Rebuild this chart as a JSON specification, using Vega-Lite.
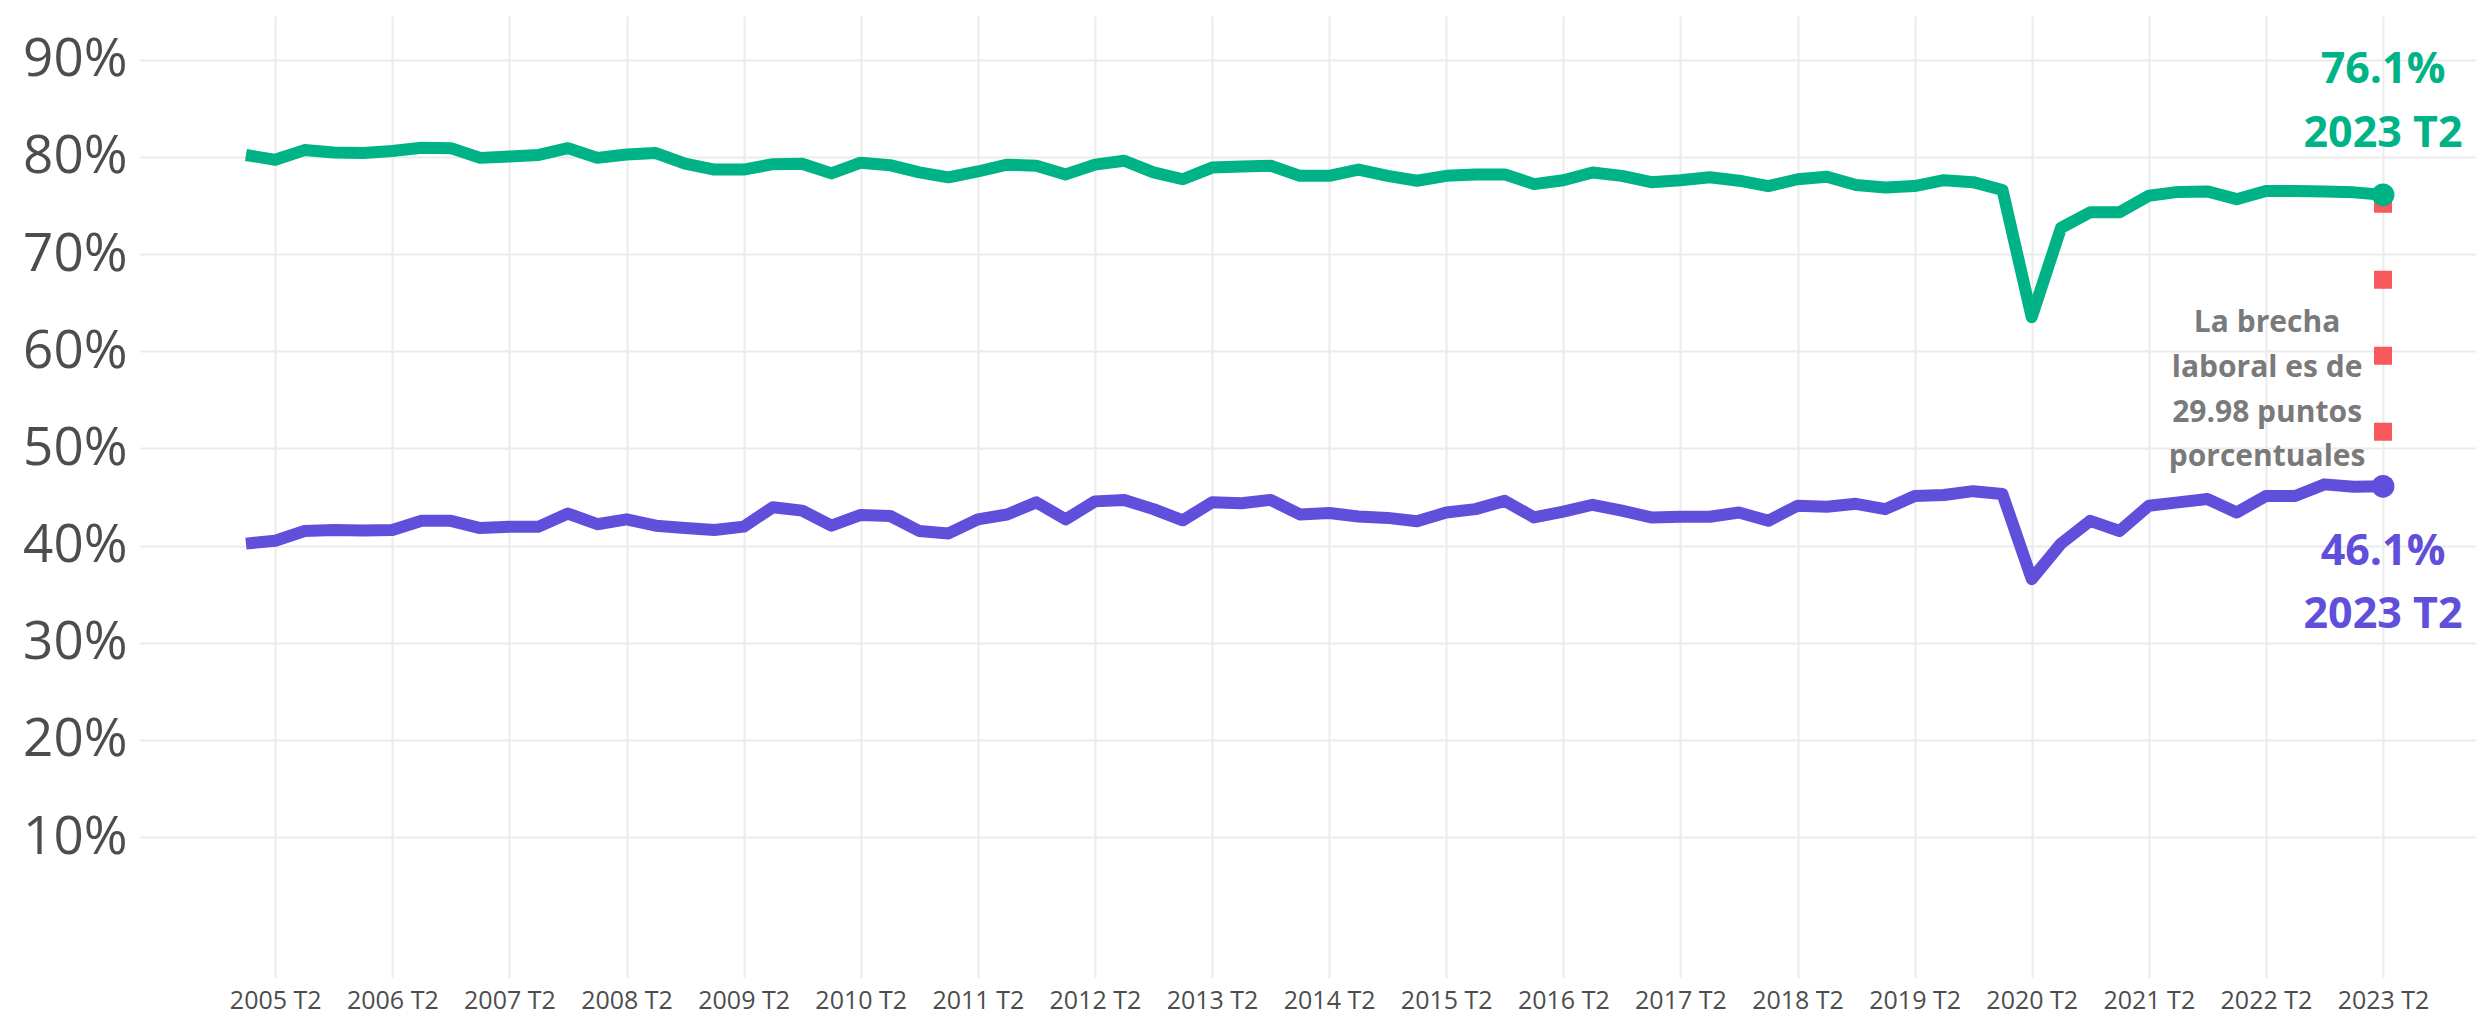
{
  "$schema": "https://vega.github.io/schema/vega-lite/v6.json",
  "width": 2336,
  "height": 962,
  "autosize": {"type": "none"},
  "padding": {"left": 140, "top": 16, "right": 0, "bottom": 36},
  "background": "white",
  "config": {"view": {"stroke": null}, "font": "Open Sans"},
  "datasets": {
    "serie": [
      {"t": 2005, "sexo": "Hombres", "v": 80.2}, {"t": 2005.25, "sexo": "Hombres", "v": 79.7}, {"t": 2005.5, "sexo": "Hombres", "v": 80.7}, {"t": 2005.75, "sexo": "Hombres", "v": 80.45},
      {"t": 2006, "sexo": "Hombres", "v": 80.4}, {"t": 2006.25, "sexo": "Hombres", "v": 80.6}, {"t": 2006.5, "sexo": "Hombres", "v": 80.95}, {"t": 2006.75, "sexo": "Hombres", "v": 80.9},
      {"t": 2007, "sexo": "Hombres", "v": 79.9}, {"t": 2007.25, "sexo": "Hombres", "v": 80.05}, {"t": 2007.5, "sexo": "Hombres", "v": 80.2}, {"t": 2007.75, "sexo": "Hombres", "v": 80.9},
      {"t": 2008, "sexo": "Hombres", "v": 79.9}, {"t": 2008.25, "sexo": "Hombres", "v": 80.25}, {"t": 2008.5, "sexo": "Hombres", "v": 80.4}, {"t": 2008.75, "sexo": "Hombres", "v": 79.3},
      {"t": 2009, "sexo": "Hombres", "v": 78.7}, {"t": 2009.25, "sexo": "Hombres", "v": 78.7}, {"t": 2009.5, "sexo": "Hombres", "v": 79.25}, {"t": 2009.75, "sexo": "Hombres", "v": 79.3},
      {"t": 2010, "sexo": "Hombres", "v": 78.3}, {"t": 2010.25, "sexo": "Hombres", "v": 79.4}, {"t": 2010.5, "sexo": "Hombres", "v": 79.15}, {"t": 2010.75, "sexo": "Hombres", "v": 78.4},
      {"t": 2011, "sexo": "Hombres", "v": 77.9}, {"t": 2011.25, "sexo": "Hombres", "v": 78.5}, {"t": 2011.5, "sexo": "Hombres", "v": 79.2}, {"t": 2011.75, "sexo": "Hombres", "v": 79.1},
      {"t": 2012, "sexo": "Hombres", "v": 78.2}, {"t": 2012.25, "sexo": "Hombres", "v": 79.2}, {"t": 2012.5, "sexo": "Hombres", "v": 79.6}, {"t": 2012.75, "sexo": "Hombres", "v": 78.4},
      {"t": 2013, "sexo": "Hombres", "v": 77.7}, {"t": 2013.25, "sexo": "Hombres", "v": 78.9}, {"t": 2013.5, "sexo": "Hombres", "v": 79.0}, {"t": 2013.75, "sexo": "Hombres", "v": 79.1},
      {"t": 2014, "sexo": "Hombres", "v": 78.05}, {"t": 2014.25, "sexo": "Hombres", "v": 78.05}, {"t": 2014.5, "sexo": "Hombres", "v": 78.7}, {"t": 2014.75, "sexo": "Hombres", "v": 78.05},
      {"t": 2015, "sexo": "Hombres", "v": 77.55}, {"t": 2015.25, "sexo": "Hombres", "v": 78.05}, {"t": 2015.5, "sexo": "Hombres", "v": 78.2}, {"t": 2015.75, "sexo": "Hombres", "v": 78.2},
      {"t": 2016, "sexo": "Hombres", "v": 77.2}, {"t": 2016.25, "sexo": "Hombres", "v": 77.6}, {"t": 2016.5, "sexo": "Hombres", "v": 78.4}, {"t": 2016.75, "sexo": "Hombres", "v": 78.05},
      {"t": 2017, "sexo": "Hombres", "v": 77.4}, {"t": 2017.25, "sexo": "Hombres", "v": 77.6}, {"t": 2017.5, "sexo": "Hombres", "v": 77.9}, {"t": 2017.75, "sexo": "Hombres", "v": 77.55},
      {"t": 2018, "sexo": "Hombres", "v": 77.0}, {"t": 2018.25, "sexo": "Hombres", "v": 77.7}, {"t": 2018.5, "sexo": "Hombres", "v": 77.95}, {"t": 2018.75, "sexo": "Hombres", "v": 77.1},
      {"t": 2019, "sexo": "Hombres", "v": 76.85}, {"t": 2019.25, "sexo": "Hombres", "v": 77.0}, {"t": 2019.5, "sexo": "Hombres", "v": 77.6}, {"t": 2019.75, "sexo": "Hombres", "v": 77.4},
      {"t": 2020, "sexo": "Hombres", "v": 76.6}, {"t": 2020.25, "sexo": "Hombres", "v": 63.5}, {"t": 2020.5, "sexo": "Hombres", "v": 72.7}, {"t": 2020.75, "sexo": "Hombres", "v": 74.3},
      {"t": 2021, "sexo": "Hombres", "v": 74.3}, {"t": 2021.25, "sexo": "Hombres", "v": 76.0}, {"t": 2021.5, "sexo": "Hombres", "v": 76.4}, {"t": 2021.75, "sexo": "Hombres", "v": 76.45},
      {"t": 2022, "sexo": "Hombres", "v": 75.65}, {"t": 2022.25, "sexo": "Hombres", "v": 76.5}, {"t": 2022.5, "sexo": "Hombres", "v": 76.5}, {"t": 2022.75, "sexo": "Hombres", "v": 76.45},
      {"t": 2023, "sexo": "Hombres", "v": 76.35}, {"t": 2023.25, "sexo": "Hombres", "v": 76.1},
      {"t": 2005, "sexo": "Mujeres", "v": 40.2}, {"t": 2005.25, "sexo": "Mujeres", "v": 40.5}, {"t": 2005.5, "sexo": "Mujeres", "v": 41.5}, {"t": 2005.75, "sexo": "Mujeres", "v": 41.6},
      {"t": 2006, "sexo": "Mujeres", "v": 41.55}, {"t": 2006.25, "sexo": "Mujeres", "v": 41.6}, {"t": 2006.5, "sexo": "Mujeres", "v": 42.55}, {"t": 2006.75, "sexo": "Mujeres", "v": 42.55},
      {"t": 2007, "sexo": "Mujeres", "v": 41.8}, {"t": 2007.25, "sexo": "Mujeres", "v": 41.95}, {"t": 2007.5, "sexo": "Mujeres", "v": 41.95}, {"t": 2007.75, "sexo": "Mujeres", "v": 43.3},
      {"t": 2008, "sexo": "Mujeres", "v": 42.2}, {"t": 2008.25, "sexo": "Mujeres", "v": 42.7}, {"t": 2008.5, "sexo": "Mujeres", "v": 42.05}, {"t": 2008.75, "sexo": "Mujeres", "v": 41.8},
      {"t": 2009, "sexo": "Mujeres", "v": 41.6}, {"t": 2009.25, "sexo": "Mujeres", "v": 41.95}, {"t": 2009.5, "sexo": "Mujeres", "v": 43.95}, {"t": 2009.75, "sexo": "Mujeres", "v": 43.6},
      {"t": 2010, "sexo": "Mujeres", "v": 42.05}, {"t": 2010.25, "sexo": "Mujeres", "v": 43.15}, {"t": 2010.5, "sexo": "Mujeres", "v": 43.05}, {"t": 2010.75, "sexo": "Mujeres", "v": 41.5},
      {"t": 2011, "sexo": "Mujeres", "v": 41.25}, {"t": 2011.25, "sexo": "Mujeres", "v": 42.7}, {"t": 2011.5, "sexo": "Mujeres", "v": 43.2}, {"t": 2011.75, "sexo": "Mujeres", "v": 44.45},
      {"t": 2012, "sexo": "Mujeres", "v": 42.7}, {"t": 2012.25, "sexo": "Mujeres", "v": 44.55}, {"t": 2012.5, "sexo": "Mujeres", "v": 44.7}, {"t": 2012.75, "sexo": "Mujeres", "v": 43.75},
      {"t": 2013, "sexo": "Mujeres", "v": 42.6}, {"t": 2013.25, "sexo": "Mujeres", "v": 44.45}, {"t": 2013.5, "sexo": "Mujeres", "v": 44.35}, {"t": 2013.75, "sexo": "Mujeres", "v": 44.7},
      {"t": 2014, "sexo": "Mujeres", "v": 43.2}, {"t": 2014.25, "sexo": "Mujeres", "v": 43.35}, {"t": 2014.5, "sexo": "Mujeres", "v": 43.0}, {"t": 2014.75, "sexo": "Mujeres", "v": 42.85},
      {"t": 2015, "sexo": "Mujeres", "v": 42.5}, {"t": 2015.25, "sexo": "Mujeres", "v": 43.4}, {"t": 2015.5, "sexo": "Mujeres", "v": 43.75}, {"t": 2015.75, "sexo": "Mujeres", "v": 44.6},
      {"t": 2016, "sexo": "Mujeres", "v": 42.9}, {"t": 2016.25, "sexo": "Mujeres", "v": 43.5}, {"t": 2016.5, "sexo": "Mujeres", "v": 44.2}, {"t": 2016.75, "sexo": "Mujeres", "v": 43.6},
      {"t": 2017, "sexo": "Mujeres", "v": 42.9}, {"t": 2017.25, "sexo": "Mujeres", "v": 42.97}, {"t": 2017.5, "sexo": "Mujeres", "v": 42.97}, {"t": 2017.75, "sexo": "Mujeres", "v": 43.4},
      {"t": 2018, "sexo": "Mujeres", "v": 42.55}, {"t": 2018.25, "sexo": "Mujeres", "v": 44.1}, {"t": 2018.5, "sexo": "Mujeres", "v": 44.0}, {"t": 2018.75, "sexo": "Mujeres", "v": 44.3},
      {"t": 2019, "sexo": "Mujeres", "v": 43.75}, {"t": 2019.25, "sexo": "Mujeres", "v": 45.1}, {"t": 2019.5, "sexo": "Mujeres", "v": 45.2}, {"t": 2019.75, "sexo": "Mujeres", "v": 45.6},
      {"t": 2020, "sexo": "Mujeres", "v": 45.3}, {"t": 2020.25, "sexo": "Mujeres", "v": 36.55}, {"t": 2020.5, "sexo": "Mujeres", "v": 40.2}, {"t": 2020.75, "sexo": "Mujeres", "v": 42.55},
      {"t": 2021, "sexo": "Mujeres", "v": 41.5}, {"t": 2021.25, "sexo": "Mujeres", "v": 44.1}, {"t": 2021.5, "sexo": "Mujeres", "v": 44.45}, {"t": 2021.75, "sexo": "Mujeres", "v": 44.8},
      {"t": 2022, "sexo": "Mujeres", "v": 43.4}, {"t": 2022.25, "sexo": "Mujeres", "v": 45.1}, {"t": 2022.5, "sexo": "Mujeres", "v": 45.1}, {"t": 2022.75, "sexo": "Mujeres", "v": 46.3},
      {"t": 2023, "sexo": "Mujeres", "v": 46.05}, {"t": 2023.25, "sexo": "Mujeres", "v": 46.1}
    ]
  },
  "layer": [
    {
      "data": {"name": "serie"},
      "mark": {"type": "line", "strokeWidth": 12, "strokeJoin": "round", "strokeCap": "butt"},
      "encoding": {
        "x": {
          "field": "t", "type": "quantitative",
          "scale": {"domain": [2004.095, 2024.044], "nice": false, "zero": false},
          "axis": {
            "title": null,
            "values": [2005.25, 2006.25, 2007.25, 2008.25, 2009.25, 2010.25, 2011.25, 2012.25, 2013.25, 2014.25, 2015.25, 2016.25, 2017.25, 2018.25, 2019.25, 2020.25, 2021.25, 2022.25, 2023.25],
            "labelExpr": "floor(datum.value) + ' T2'",
            "domain": false, "ticks": false, "grid": true,
            "gridColor": "#EBEBEB", "gridWidth": 2,
            "labelFont": "Open Sans", "labelFontSize": 25, "labelColor": "#4D4D4D",
            "labelPadding": 10, "labelOverlap": false, "labelFlush": false
          }
        },
        "y": {
          "field": "v", "type": "quantitative",
          "scale": {"domain": [-4.5, 94.5], "nice": false, "zero": false},
          "axis": {
            "title": null,
            "values": [10, 20, 30, 40, 50, 60, 70, 80, 90],
            "labelExpr": "datum.value + '%'",
            "domain": false, "ticks": false, "grid": true,
            "gridColor": "#EBEBEB", "gridWidth": 2,
            "labelFont": "Open Sans", "labelFontSize": 53, "labelColor": "#4D4D4D",
            "labelPadding": 13, "labelOverlap": false, "labelFlush": false
          }
        },
        "color": {
          "field": "sexo", "type": "nominal",
          "scale": {"domain": ["Hombres", "Mujeres"], "range": ["#00B386", "#5F4FDB"]},
          "legend": null
        }
      }
    },
    {
      "data": {"values": [{"t": 2023.25, "v": 76.1, "v2": 46.1}]},
      "mark": {"type": "rule", "color": "#F8595C", "strokeWidth": 18, "strokeDash": [18, 58], "strokeCap": "butt"},
      "encoding": {
        "x": {"field": "t", "type": "quantitative"},
        "y": {"field": "v", "type": "quantitative"},
        "y2": {"field": "v2"}
      }
    },
    {
      "data": {"name": "serie"},
      "transform": [{"filter": "datum.t == 2023.25"}],
      "mark": {"type": "point", "filled": true, "size": 520, "opacity": 1},
      "encoding": {
        "x": {"field": "t", "type": "quantitative"},
        "y": {"field": "v", "type": "quantitative"},
        "color": {"field": "sexo", "type": "nominal"}
      }
    },
    {
      "data": {"values": [
        {"t": 2023.25, "v": 87.6, "sexo": "Hombres", "label": "76.1%"},
        {"t": 2023.25, "v": 81.0, "sexo": "Hombres", "label": "2023 T2"},
        {"t": 2023.25, "v": 38.0, "sexo": "Mujeres", "label": "46.1%"},
        {"t": 2023.25, "v": 31.5, "sexo": "Mujeres", "label": "2023 T2"}
      ]},
      "mark": {"type": "text", "font": "Open Sans", "fontSize": 43, "fontWeight": "bold", "align": "center", "baseline": "alphabetic"},
      "encoding": {
        "x": {"field": "t", "type": "quantitative"},
        "y": {"field": "v", "type": "quantitative"},
        "text": {"field": "label"},
        "color": {"field": "sexo", "type": "nominal"}
      }
    },
    {
      "data": {"values": [
        {"t": 2022.26, "v": 62.0, "label": "La brecha"},
        {"t": 2022.26, "v": 57.3, "label": "laboral es de"},
        {"t": 2022.26, "v": 52.75, "label": "29.98 puntos"},
        {"t": 2022.26, "v": 48.2, "label": "porcentuales"}
      ]},
      "mark": {"type": "text", "font": "Open Sans", "fontSize": 30, "fontWeight": "bold", "align": "center", "baseline": "alphabetic", "color": "#7A7A7A"},
      "encoding": {
        "x": {"field": "t", "type": "quantitative"},
        "y": {"field": "v", "type": "quantitative"},
        "text": {"field": "label"}
      }
    }
  ]
}
